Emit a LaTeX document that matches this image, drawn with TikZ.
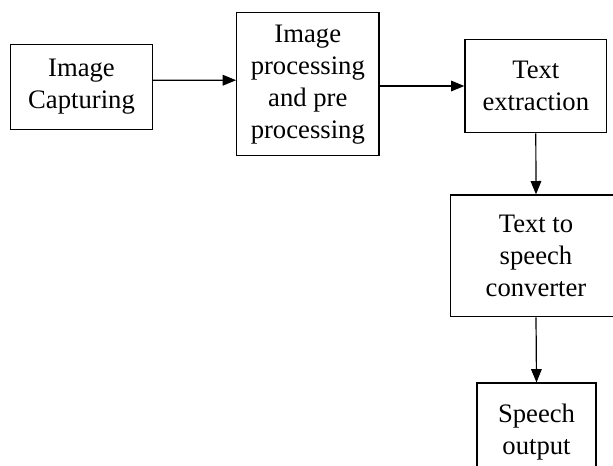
\documentclass[tikz,border=0pt]{standalone}
\usepackage{fontspec}
\setmainfont{Liberation Serif}
\usetikzlibrary{arrows.meta}
\newcommand\colorBlock{black}
\newcommand\colorFlow{black}
\newcommand\blockLine{0.9pt}
\newcommand\blockFont{\fontsize{20}{24}\selectfont}

\begin{document}
\begin{tikzpicture}[x=0.75pt,y=-0.75pt,
		block/.style={draw=\colorBlock, line width=\blockLine, inner sep=0pt, align=center, font=\blockFont},
		flow/.style={-{Triangle[length=10pt,width=8pt]}, color=\colorFlow, line width=\blockLine}]
		\useasboundingbox (0,0) rectangle (613,465);
		\clip (0,0) rectangle (613,465);
	
		\node[block, minimum width=106.2pt, minimum height=63.2pt] (capture) at (81.5,87) {Image\\Capturing};
		\node[block, minimum width=106.7pt, minimum height=107.3pt] (preproc) at (307.8,84.2) {Image\\processing\\and pre\\processing};
		\node[block, minimum width=106.3pt, minimum height=70pt] (extract) at (535.8,86) {Text\\extraction};
		\node[block, minimum width=128pt, minimum height=91.3pt] (tts) at (536,255.8) {Text to\\speech\\converter};
		\node[block, minimum width=89.3pt, minimum height=73.5pt] (speech) at (536.5,432) {Speech\\output};
	
		\draw[flow] ([yshift=5pt]capture.east) to ([yshift=3pt]preproc.west);
		\draw[flow] (preproc.east |- extract.west) to (extract.west);
		\draw[flow] (extract.south) to (tts.north);
		\draw[flow] (tts.south) to (speech.north);
	\end{tikzpicture}
\end{document}
